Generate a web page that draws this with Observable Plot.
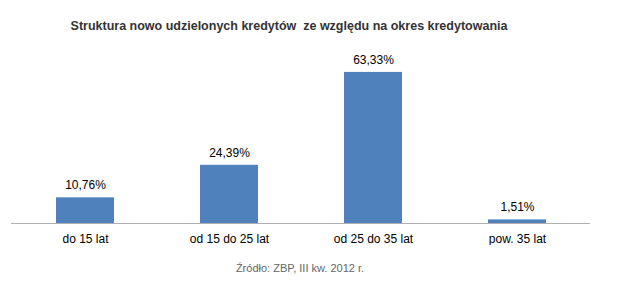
<!DOCTYPE html>
<html>
<head>
<meta charset="utf-8">
<script src="https://cdn.jsdelivr.net/npm/d3@7"></script>
<script src="https://cdn.jsdelivr.net/npm/@observablehq/plot@0.6"></script>
<style>
  html, body { margin: 0; padding: 0; background: #fff; }
  #wrap { width: 636px; height: 285px; position: relative; overflow: hidden; }
  #title {
    position: absolute; left: 0; top: 19px; width: 578px; text-align: center;
    font: bold 12.5px "Liberation Sans", Arial, sans-serif; color: #333;
    white-space: pre;
  }
  #chart { position: absolute; left: 0; top: 45px; }
  #caption {
    position: absolute; left: 0; top: 262px; width: 600px; text-align: center;
    font: 11px "Liberation Sans", Arial, sans-serif; color: #666;
  }
</style>
</head>
<body>
<div id="wrap">
  <div id="title">Struktura nowo udzielonych kredytów  ze względu na okres kredytowania</div>
  <div id="chart"></div>
  <div id="caption">Źródło: ZBP, III kw. 2012 r.</div>
</div>
<script>
// Loan term categories and share of newly granted loans (%)
const categories = ["do 15 lat", "od 15 do 25 lat", "od 25 do 35 lat", "pow. 35 lat"];
const shares = [10.76, 24.39, 63.33, 1.51];
const valueLabels = ["10,76%", "24,39%", "63,33%", "1,51%"];

const data = categories.map((c, i) => ({category: c, share: shares[i], label: valueLabels[i]}));

const chart = Plot.plot({
  width: 636,
  height: 200,
  marginTop: 11,
  marginBottom: 22,
  marginLeft: 11,
  marginRight: 46,
  style: {fontFamily: "'Liberation Sans', Arial, sans-serif", fontSize: "12px", color: "#000", background: "transparent"},
  x: {domain: categories, paddingInner: 0.6, paddingOuter: 0.3, label: null},
  y: {domain: [0, 70], axis: null},
  marks: [
    Plot.barY(data, {x: "category", y: "share", fill: "#4F81BD"}),
    Plot.ruleY([0], {stroke: "#b0b0b0", strokeWidth: 1}),
    Plot.text(data, {x: "category", y: "share", text: "label", dy: -12.5, fill: "#000", fontSize: 12}),
    Plot.axisX({tickSize: 0, tickPadding: 11, fontSize: 12, fill: "#000"})
  ]
});
document.getElementById("chart").appendChild(chart);
</script>
</body>
</html>
